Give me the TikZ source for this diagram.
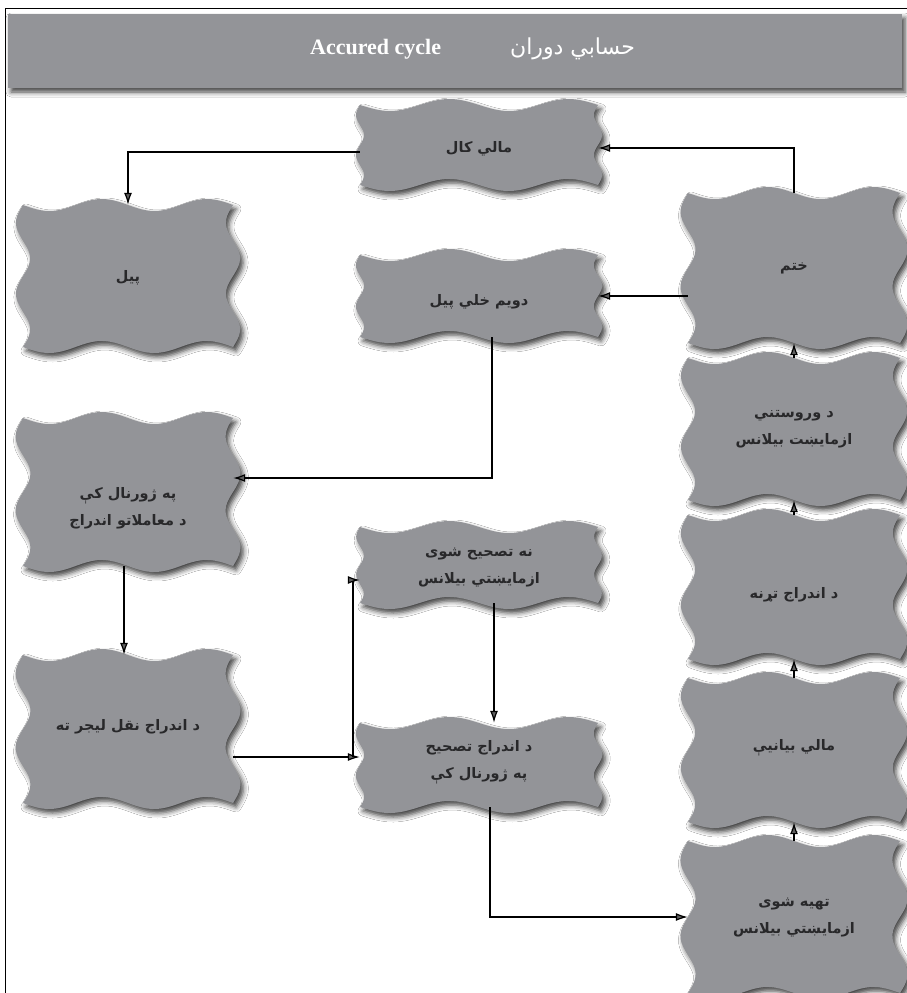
\documentclass[tikz,border=0pt]{standalone}
\usepackage{fontspec}
\setmainfont{Liberation Serif}
\newfontfamily\arabicfont[Script=Arabic]{DejaVu Sans}
\TeXXeTstate=1
\usetikzlibrary{arrows.meta,shadows.blur}
\definecolor{boxgray}{RGB}{147,148,152}
\definecolor{txtdark}{RGB}{40,40,42}
\tikzset{
  wshadow/.style={blur shadow={shadow xshift=3pt,shadow yshift=-4pt,shadow blur radius=5pt,shadow opacity=75}},
  boxnode/.style={inner sep=0pt, draw=none},
  lbl/.style={inner sep=0pt, align=center, text=txtdark, font=\arabicfont\bfseries\fontsize{14.5}{27}\selectfont},
  arr/.style={line width=1.2pt, -{Latex[length=12pt,width=8pt]}},
  conn/.style={line width=1.2pt},
}
\newcommand\wavebox[4]{%
  \pgfmathsetmacro\wL{#1-#3}\pgfmathsetmacro\wR{#1+#3}%
  \pgfmathsetmacro\wT{#2-#4}\pgfmathsetmacro\wB{#2+#4}%
  \pgfmathsetmacro\wS{min(8,0.1*#4)}%
  \fill[boxgray,wshadow]
    plot[domain=\wL:\wR,samples=40,smooth] (\x,{\wT+6*sin(720*((\x-\wL)/(\wR-\wL)))})
    -- plot[domain=\wT:\wB,samples=40,smooth] ({\wR-\wS*sin(720*((\x-\wT)/(\wB-\wT)))},\x)
    -- plot[domain=\wR:\wL,samples=40,smooth] (\x,{\wB+6*sin(720*((\x-\wL)/(\wR-\wL)))})
    -- plot[domain=\wB:\wT,samples=40,smooth] ({\wL-\wS*sin(720*((\x-\wT)/(\wB-\wT)))},\x)
    -- cycle;}
\newcommand\wnode[7]{%
  \wavebox{#2}{#3}{#4}{#5}
  \pgfmathsetmacro\wW{2*#4}\pgfmathsetmacro\wH{2*#5}%
  \node[boxnode,minimum width=\wW pt,minimum height=\wH pt] (#1) at (#2,#3) {};
  \node[lbl] (#1-t) at (#2,#3+#6) {#7};}
\begin{document}
\begin{tikzpicture}[x=1pt,y=-1pt]
\useasboundingbox (0,0) rectangle (907,993);
\fill[white] (0,0) rectangle (907,993);
\draw[line width=0.8pt] (5,993) -- (5,8) -- (907,8);
\fill[boxgray,wshadow] (8,14) rectangle (902,88);
\node[font=\bfseries\fontsize{22}{24}\selectfont, text=white, anchor=west, inner sep=0pt] (title-en) at (310,49) {Accured cycle};
\node[font=\arabicfont\fontsize{22}{24}\selectfont, text=white, anchor=west, inner sep=0pt] (title-ar) at (510,49) {\beginR حسابي دوران\endR};

\wnode{kaal}{479}{145}{119}{40}{4}{\beginR مالي کال\endR}
\wnode{payl}{128}{276}{105}{71}{2}{\beginR پيل\endR}
\wnode{dowaim}{479}{296}{119}{41}{6}{\beginR دويم خلي پيل\endR}
\wnode{khatm}{794}{268}{106}{75}{0}{\beginR ختم\endR}
\wnode{wrost}{794}{429}{106}{71}{0}{\beginR د وروستني\endR\\\beginR ازمايښت بيلانس\endR}
\wnode{tarna}{794}{587}{106}{72}{8}{\beginR د اندراج تړنه\endR}
\wnode{bayan}{794}{750}{106}{72}{-2}{\beginR مالي بيانيې\endR}
\wnode{tahiya}{794}{917}{106}{76}{1}{\beginR تهيه شوی\endR\\\beginR ازمايښتي بيلانس\endR}
\wnode{jour}{128}{492}{105}{74}{16}{\beginR په ژورنال کې\endR\\\beginR د معاملاتو اندراج\endR}
\wnode{naql}{128}{729}{105}{74}{-2}{\beginR د اندراج نقل ليجر ته\endR}
\wnode{natas}{479}{565}{119}{38}{3}{\beginR نه تصحيح شوی\endR\\\beginR ازمايښتي بيلانس\endR}
\wnode{tas}{479}{765}{119}{42}{-3}{\beginR د اندراج تصحيح\endR\\\beginR په ژورنال کې\endR}

\draw[arr] ([yshift=-7pt]kaal.west) -| (payl.north);
\draw[arr] (khatm.north) |- ([yshift=-3pt]kaal.east);
\draw[arr] (khatm.west |- dowaim.east) -- (dowaim.east);
\draw[arr] ([xshift=13pt]dowaim.south) |- ([yshift=14pt]jour.east);
\draw[arr] ([xshift=-4pt]jour.south) -- ([xshift=-4pt]naql.north);
\coordinate (split) at (353,757);
\draw[conn] ([yshift=-28pt]naql.east) -- (split);
\draw[arr] (split) -- (split -| tas.west);
\draw[arr] (split) |- ([yshift=-15pt]natas.west);
\draw[arr] ([xshift=15pt]natas.south) -- ([xshift=15pt]tas.north);
\draw[arr] ([xshift=11pt]tas.south) |- (tahiya.west);
\draw[arr] (tahiya.north) -- (bayan.south);
\draw[arr] (bayan.north) -- (tarna.south);
\draw[arr] (tarna.north) -- (wrost.south);
\draw[arr] (wrost.north) -- (khatm.south);
\end{tikzpicture}
\end{document}
